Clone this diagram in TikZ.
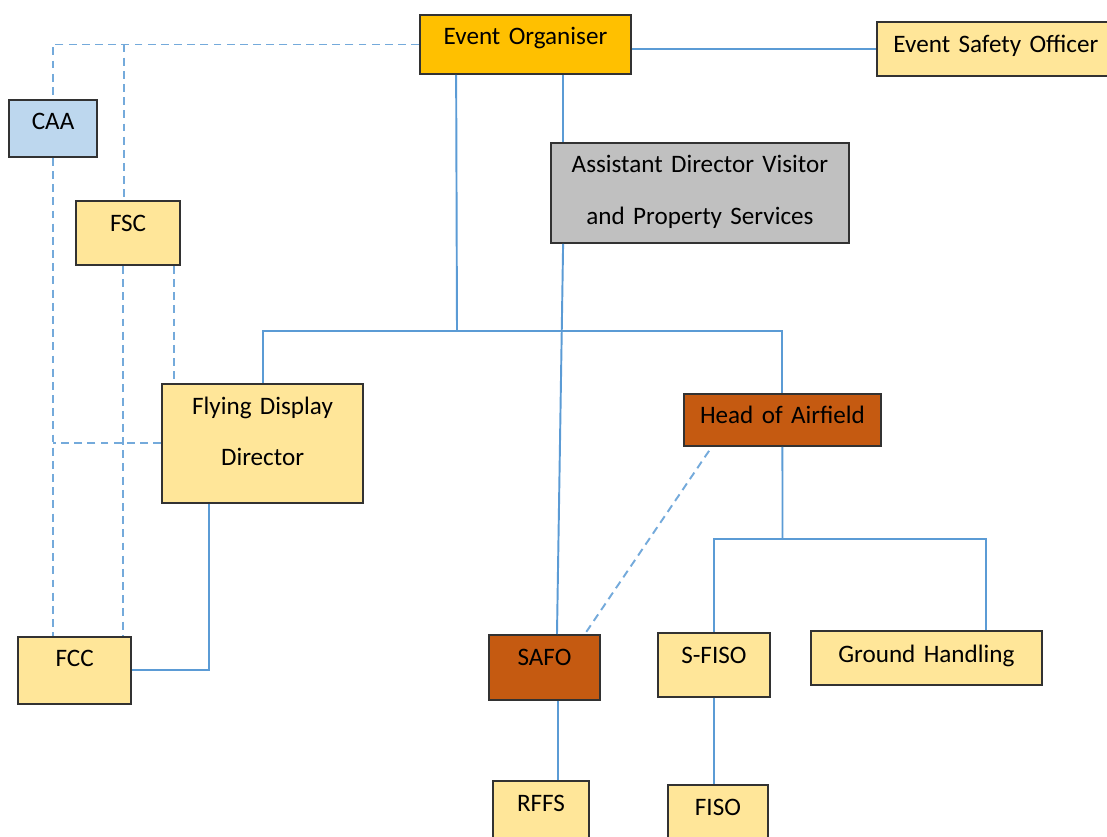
\documentclass[tikz,border=0pt]{standalone}
\usepackage{fontspec}
\setmainfont{Carlito}
\usetikzlibrary{positioning}
\definecolor{linkblue}{RGB}{91,155,213}
\definecolor{boxline}{RGB}{50,50,50}
\definecolor{orgyellow}{RGB}{255,192,0}
\definecolor{paleyellow}{RGB}{255,230,153}
\definecolor{paleblue}{RGB}{189,215,238}
\definecolor{midgrey}{RGB}{192,192,192}
\definecolor{rust}{RGB}{197,90,17}

\tikzstyle{block} = [rectangle, draw=boxline, line width=1pt, fill=paleyellow,
    inner sep=0pt, align=center, font=\fontsize{14.3}{17}\selectfont]
\tikzstyle{line} = [draw, linkblue, line width=1.1pt]
\tikzstyle{dashline} = [draw, linkblue!85, line width=1.1pt, dash pattern=on 4.5pt off 3pt]

\begin{document}
\begin{tikzpicture}[x=0.02cm, y=-0.02cm]
\useasboundingbox (0,0) rectangle (1107,837);
\node [block, fill=orgyellow, text width=4.22cm, text height=0.60cm, text depth=0.58cm] (organiser) at (525.5,44.5) {Event Organiser};
\node [block, right of=organiser, node distance=9.41cm, yshift=-0.09cm, text width=4.76cm, text height=0.62cm, text depth=0.46cm] (safety) {Event Safety Officer};
\node [block, fill=midgrey, below of=organiser, node distance=2.97cm, xshift=3.49cm, text width=5.96cm, text height=0.60cm, text depth=1.40cm, font=\fontsize{14.3}{29.5}\selectfont] (assistant) {Assistant Director Visitor\\and Property Services};
\node [block, fill=paleblue, left of=organiser, node distance=9.45cm, yshift=-1.68cm, text width=1.76cm, text height=0.60cm, text depth=0.54cm] (caa) {CAA};
\node [block, below of=caa, node distance=2.09cm, xshift=1.5cm, text width=2.08cm, text height=0.62cm, text depth=0.66cm] (fsc) {FSC};
\node [block, below of=fsc, node distance=4.21cm, xshift=2.69cm, text width=4.02cm, text height=0.62cm, text depth=1.76cm, font=\fontsize{14.3}{28.9}\selectfont] (flying) {Flying Display\\Director};
\node [block, fill=rust, below of=assistant, node distance=4.54cm, xshift=1.65cm, text width=3.94cm, text height=0.60cm, text depth=0.44cm] (airfield) {Head of Airfield};
\node [block, below of=caa, node distance=10.84cm, xshift=0.43cm, text width=2.26cm, text height=0.60cm, text depth=0.74cm] (fcc) {FCC};
\node [block, fill=rust, below of=assistant, node distance=9.49cm, xshift=-3.11cm, text width=2.22cm, text height=0.62cm, text depth=0.68cm] (safo) {SAFO};
\node [block, right of=safo, node distance=3.39cm, yshift=0.05cm, text width=2.24cm, text height=0.62cm, text depth=0.66cm] (sfiso) {S-FISO};
\node [block, right of=sfiso, node distance=4.25cm, yshift=0.14cm, text width=4.62cm, text height=0.64cm, text depth=0.44cm] (ground) {Ground Handling};
\node [block, below of=safo, node distance=2.95cm, xshift=-0.07cm, text width=1.92cm, text height=0.62cm, text depth=0.74cm] (rffs) {RFFS};
\node [block, below of=sfiso, node distance=3.04cm, xshift=0.08cm, text width=2.00cm, text height=0.62cm, text depth=0.66cm] (fiso) {FISO};

\coordinate (busjoin) at (457,331);
\coordinate (airjoin) at (782.5,539);

  \path [line] (safety.west -| organiser.east) -- (safety.west);
  \path [line] ([xshift=0.74cm]organiser.south west) -- (busjoin);
  \path [line] (flying.north) |- (busjoin) -| (airfield.north);
  \path [line] ([xshift=0.26cm]assistant.north west |- organiser.south) -- ([xshift=0.26cm]assistant.north west);
  \path [line] ([xshift=0.26cm]assistant.south west) -- ([xshift=0.25cm]safo.north);
  \path [line] ([xshift=0.96cm]flying.south west) |- (fcc.east);
  \path [line] (airfield.south) -- (airjoin);
  \path [line] (sfiso.north) |- (airjoin) -| ([xshift=1.19cm]ground.north);
  \path [line] ([xshift=0.27cm]safo.south) -- ([xshift=0.27cm]safo.south |- rffs.north);
  \path [line] (sfiso.south) -- (sfiso.south |- fiso.north);

  \path [dashline] (organiser.west) -| (caa.north);
  \path [dashline] ([xshift=-0.08cm]fsc.north |- organiser.west) -- ([xshift=-0.08cm]fsc.north);
  \path [dashline] (caa.south) -- (caa.south |- fcc.north);
  \path [dashline] ([xshift=-0.1cm]fsc.south) -- ([xshift=-0.1cm]fsc.south |- fcc.north);
  \path [dashline] ([xshift=-0.14cm]fsc.south east) -- ([xshift=-0.14cm]fsc.south east |- flying.north);
  \path [dashline] (flying.west) -- (flying.west -| caa.south);
  \path [dashline] ([xshift=0.52cm, yshift=-0.08cm]airfield.south west) -- ([xshift=-0.32cm]safo.north east);

\end{tikzpicture}
\end{document}
